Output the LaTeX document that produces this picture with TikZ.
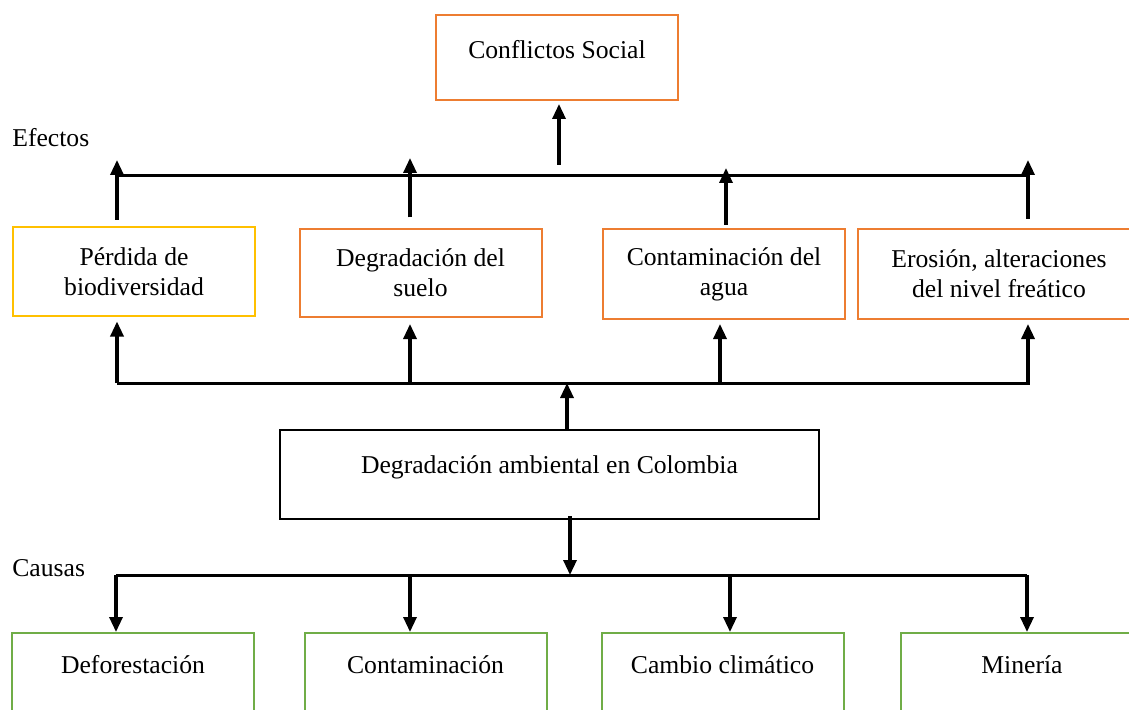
\documentclass[tikz,border=0pt]{standalone}
\usepackage{fontspec}
\setmainfont{Liberation Serif}
\usetikzlibrary{arrows.meta}
\definecolor{effyellow}{HTML}{FFC000}
\definecolor{efforange}{HTML}{ED7D31}
\definecolor{causegreen}{HTML}{70AD47}

\begin{document}
\begin{tikzpicture}[
    x=0.2mm, y=-0.2mm,
    font=\fontsize{14.6}{17}\selectfont,
    box/.style={rectangle, draw, line width=0.4mm, minimum width=48.4mm, minimum height=17.6mm, inner sep=0pt},
    effbox/.style={box, draw=efforange, align=center},
    causebox/.style={box, draw=causegreen, minimum height=17mm},
    txt/.style={inner sep=0pt},
    bus/.style={line width=0.6mm},
    arr/.style={line width=0.65mm, -{Triangle[width=2.6mm,length=3mm]}}
]
    \clip (0,0) rectangle (1129,710);

    % Top effect: social conflicts
    \node[effbox, minimum height=17mm] (social) at (557,57.5) {};
    \node[txt] (socialtxt) at (557,50) {Conflictos Social};

    % Effects label and bus
    \node[txt, anchor=west] (efectos) at (12,138) {Efectos};
    \coordinate (topL) at (117,176);
    \coordinate (topR) at (1030,176);
    \draw[bus] (topL) -- (topR);

    % Effect boxes
    \node[box, draw=effyellow, align=center] (loss) at (134,271.5) {P\'erdida de\\biodiversidad};
    \node[effbox] (soil) at (420.5,273) {Degradaci\'on del\\suelo};
    \node[effbox, minimum height=18mm] (water) at (724,274) {Contaminaci\'on del\\agua};
    \node[effbox, minimum width=56.4mm, minimum height=18mm] (erosion) at (999,274) {Erosi\'on, alteraciones\\del nivel fre\'atico};

    % Arrows from effects to the top bus
    \coordinate (up1) at (117,160);
    \coordinate (up2) at (410,158);
    \coordinate (up3) at (726,168);
    \coordinate (up4) at (1028,160);
    \draw[arr] ([yshift=1.3mm]up1 |- loss.north) -- (up1);
    \draw[arr] ([yshift=2.1mm]up2 |- soil.north) -- (up2);
    \draw[arr] ([yshift=0.6mm]up3 |- water.north) -- (up3);
    \draw[arr] ([yshift=1.8mm]up4 |- erosion.north) -- (up4);
    \coordinate (socialtail) at (559,165);
    \draw[arr] (socialtail) -- ([yshift=-0.6mm]socialtail |- social.south);

    % Middle bus
    \coordinate (midL) at (117,383);
    \coordinate (midR) at (1030,383);
    \draw[bus] (midL) -- (midR);
    \coordinate (m1) at (117,383);
    \coordinate (m2) at (410,383);
    \coordinate (m3) at (720,383);
    \coordinate (m4) at (1028,383);
    \draw[arr] (m1) -- ([yshift=-1mm]m1 |- loss.south);
    \draw[arr] (m2) -- ([yshift=-1.2mm]m2 |- soil.south);
    \draw[arr] (m3) -- ([yshift=-0.8mm]m3 |- water.south);
    \draw[arr] (m4) -- ([yshift=-0.8mm]m4 |- erosion.south);

    % Central problem
    \node[box, line width=0.5mm, minimum width=107.8mm, minimum height=17.8mm] (central) at (549.5,474.5) {};
    \node[txt] (centraltxt) at (549.5,467) {Degradaci\'on ambiental en Colombia};
    \coordinate (centup) at (567,383);
    \coordinate (centdown) at (570,575);
    \draw[arr] (centup |- central.north) -- (centup);
    \draw[arr] ([yshift=0.8mm]centdown |- central.south) -- (centdown);

    % Causes label and bus
    \node[txt, anchor=west] (causas) at (12,568) {Causas};
    \coordinate (botL) at (116,575);
    \coordinate (botR) at (1027,575);
    \draw[bus] (botL) -- (botR);

    % Cause boxes
    \node[causebox] (defo) at (133,675.5) {};
    \node[causebox] (contam) at (425.5,675.5) {};
    \node[causebox] (climate) at (722.5,675.5) {};
    \node[causebox] (mining) at (1022,675.5) {};
    \node[txt] (defotxt) at (133,665) {Deforestaci\'on};
    \node[txt] (contamtxt) at (425.5,665) {Contaminaci\'on};
    \node[txt] (climatetxt) at (722.5,665) {Cambio clim\'atico};
    \node[txt] (miningtxt) at (1022,665) {Miner\'ia};

    % Arrows from the bottom bus to the causes
    \coordinate (d1) at (116,575);
    \coordinate (d2) at (410,575);
    \coordinate (d3) at (730,575);
    \coordinate (d4) at (1027,575);
    \draw[arr] (d1) -- (d1 |- defo.north);
    \draw[arr] (d2) -- (d2 |- contam.north);
    \draw[arr] (d3) -- (d3 |- climate.north);
    \draw[arr] (d4) -- (d4 |- mining.north);

\end{tikzpicture}
\end{document}
